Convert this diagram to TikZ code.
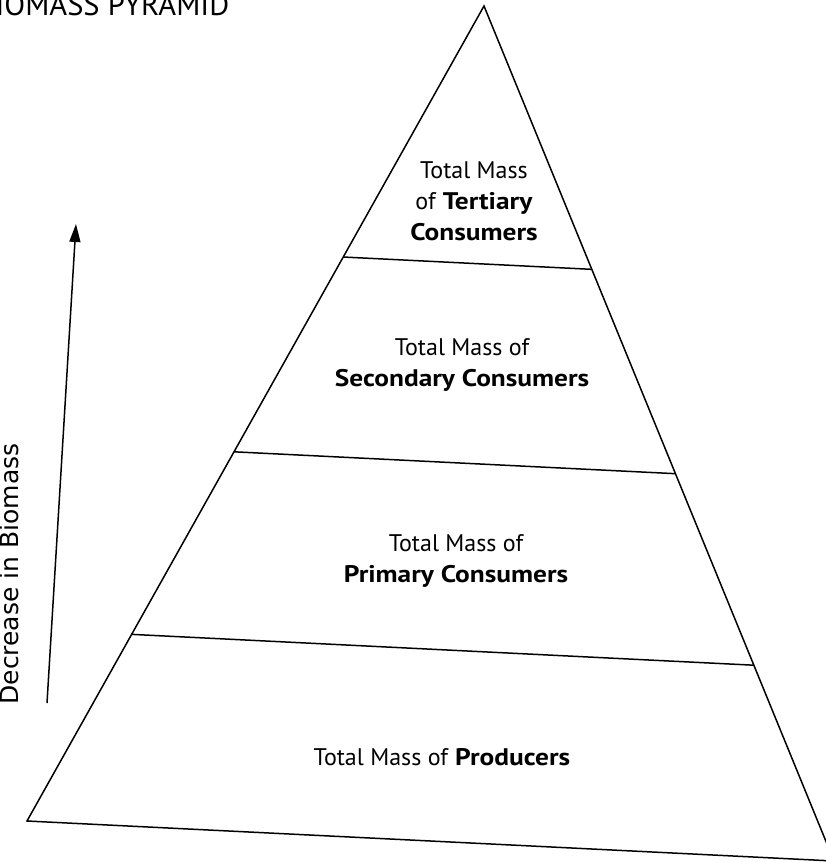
\documentclass[tikz,border=0pt]{standalone}
\usepackage{fontspec}
\setmainfont{PT Sans}[BoldFeatures={FakeStretch=1.14}]
\newfontfamily\axisfont{DejaVu Sans}
\usetikzlibrary{arrows.meta,calc}

\begin{document}
\begin{tikzpicture}[x=1pt,y=-1pt,line width=1.5pt,
  every node/.style={font=\fontsize{24}{31}\selectfont},
  tierlabel/.style={align=center}]
  \useasboundingbox (0,0) rectangle (825,862);
  % pyramid outline, base corner on the right runs off the page
  \coordinate (apex) at (484,6);
  \coordinate (baseL) at (27,821);
  \coordinate (baseR) at (834,861);
  \draw (baseL) -- (apex) -- (baseR) -- cycle;
  \foreach \t in {0.308,0.547,0.771}{
    \draw ($(apex)!\t!(baseL)$) -- ($(apex)!\t!(baseR)$);}
  % trophic levels
  \node[tierlabel] (tertiary) at (474,201) {Total Mass\\of \textbf{Tertiary}\\\textbf{Consumers}};
  \node[tierlabel] (secondary) at (462,365) {Total Mass of\\\textbf{Secondary Consumers}};
  \node[tierlabel] (primary) at (456,561) {Total Mass of\\\textbf{Primary Consumers}};
  \node (producers) at (442,757) {Total Mass of \textbf{Producers}};
  % axis arrow
  \coordinate (arrowfoot) at (47,703);
  \coordinate (arrowtip) at (76,224);
  \draw[-{Triangle[length=18pt,width=11pt]}] (arrowfoot) -- (arrowtip);
  \node[rotate=90,anchor=base,font=\axisfont\fontsize{25}{30}\selectfont] (axislabel) at (19,574) {Decrease in Biomass};
  \node[anchor=base east,inner sep=0pt,font=\fontsize{30.5}{32}\selectfont] (title) at (230,16) {BIOMASS PYRAMID};
\end{tikzpicture}
\end{document}
